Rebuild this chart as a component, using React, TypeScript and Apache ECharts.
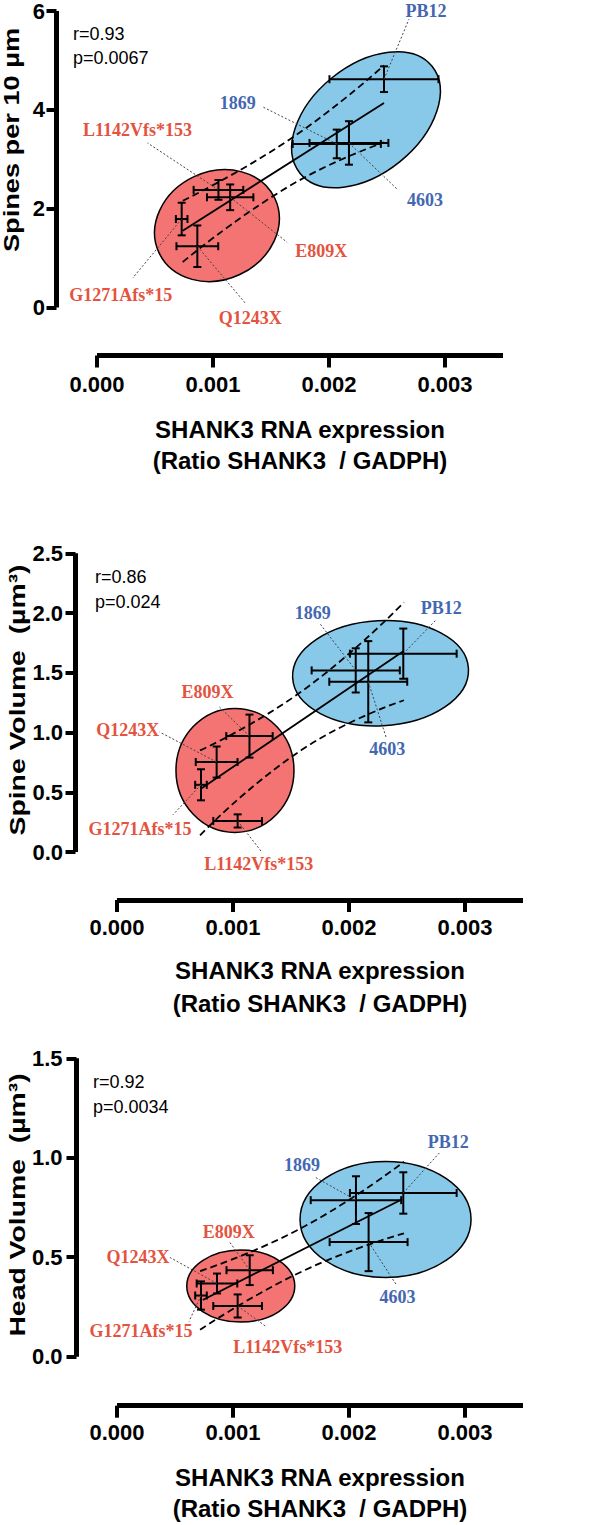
import React, { useEffect, useRef } from "react";
import * as echarts from "echarts";

// ---------- shared ----------
const cellLines = ["PB12", "1869", "4603", "L1142Vfs*153", "E809X", "G1271Afs*15", "Q1243X"];
const cellGroup = ["control", "control", "control", "mutant", "mutant", "mutant", "mutant"];
const xTicks = [0, 0.001, 0.002, 0.003];
const xMax = 0.0035;
const xTitle1 = "SHANK3 RNA expression";
const xTitle2 = "(Ratio SHANK3  / GADPH)";

// ---------- panel A: spines per 10 µm ----------
const spinesX = [0.002474, 0.002067, 0.002172, 0.001047, 0.001148, 0.00073, 0.000865];
const spinesXErr = [0.00047, 0.00038, 0.00034, 0.000214, 0.0002, 0.00005, 0.00018];
const spinesY = [4.62, 3.31, 3.33, 2.38, 2.23, 1.79, 1.24];
const spinesYErr = [0.26, 0.29, 0.44, 0.2, 0.26, 0.33, 0.42];
const spinesFit = [[0.000739, 1.555], [0.002474, 4.14]];
const spinesUpper = [[0.000739, 2.16], [0.00166, 3.4], [0.002474, 4.9]];
const spinesLower = [[0.000739, 0.92], [0.00166, 2.46], [0.002474, 3.34]];
const spinesClusters = [[0.002319, 3.8], [0.001034, 1.657]];
const spinesStats = ["r=0.93", "p=0.0067"];
const spinesYTicks = { max: 6, step: 2, decimals: 0 };

// ---------- panel B: spine volume ----------
const volX = [0.002468, 0.002058, 0.002166, 0.00104, 0.001142, 0.000724, 0.000859];
const volXErr = [0.00046, 0.00038, 0.000336, 0.00021, 0.0002, 0.00005, 0.00018];
const volY = [1.66, 1.52, 1.425, 0.26, 0.97, 0.5625, 0.753];
const volYErr = [0.21, 0.185, 0.34, 0.055, 0.18, 0.13, 0.13];
const volFit = [[0.000724, 0.53], [0.002468, 1.68]];
const volUpper = [[0.000716, 0.85], [0.0016, 1.35], [0.002474, 2.09]];
const volLower = [[0.000716, 0.14], [0.0016, 0.86], [0.002474, 1.27]];
const volClusters = [[0.002272, 1.496], [0.001017, 0.683]];
const volStats = ["r=0.86", "p=0.024"];
const volYTicks = { max: 2.5, step: 0.5, decimals: 1 };

// ---------- panel C: head volume ----------
const headX = [0.002468, 0.00206, 0.002169, 0.00104, 0.001144, 0.000724, 0.000862];
const headXErr = [0.00046, 0.00039, 0.000336, 0.00021, 0.0002, 0.00005, 0.000175];
const headY = [0.823, 0.787, 0.576, 0.255, 0.435, 0.3075, 0.368];
const headYErr = [0.104, 0.12, 0.146, 0.058, 0.075, 0.071, 0.05];
const headFit = [[0.000739, 0.285], [0.002454, 0.79]];
const headUpper = [[0.000716, 0.43], [0.0016, 0.65], [0.002474, 0.98]];
const headLower = [[0.000716, 0.135], [0.0016, 0.43], [0.002474, 0.62]];
const headClusters = [[0.002315, 0.69], [0.001067, 0.355]];
const headStats = ["r=0.92", "p=0.0034"];
const headYTicks = { max: 1.5, step: 0.5, decimals: 1 };

const yTitles = ["Spines per 10 µm", "Spine Volume  (µm³)", "Head Volume  (µm³)"];

// ---------- styles / layout ----------
const SANS = "'Liberation Sans', Arial, sans-serif";
const SERIF = "'Liberation Serif', 'Times New Roman', serif";
const COLORS = {
  controlFill: "#88c8e8",
  mutantFill: "#f47474",
  controlText: "#4467b2",
  mutantText: "#e4533f",
};

const layouts = [
  {
    grid: { left: 97, top: 10, width: 406, height: 297.5 },
    yOffset: 40.5, xOffset: 48, yMargin: 11.5, xMargin: 18,
    statsX: 73, statsY: [33.5, 58],
    yTitle: [11.5, 140, 1.236],
    xTitleX: 300, xTitleY: [429, 460],
    ellipses: [{ rx: 85, ry: 54, rot: 39 }, { rx: 64, ry: 54, rot: 25 }],
    labels: [
      [42, -68, 25, -60], [-99, -41, -74, -37], [76, 57, 49, 47], [-81, -60, -71, -47],
      [91, 54, 57, 45], [-61, 76, -49, 59], [53, 72, 48, 57],
    ],
  },
  {
    grid: { left: 117, top: 553.3, width: 406, height: 298.7 },
    yOffset: 41.5, xOffset: 48, yMargin: 12.5, xMargin: 16,
    statsX: 95, statsY: [576.7, 601.7],
    yTitle: [17, 700, 1.29],
    xTitleX: 320, xTitleY: [970, 1003],
    ellipses: [{ rx: 88, ry: 52.5, rot: 3 }, { rx: 59, ry: 62, rot: 0 }],
    labels: [
      [38, -46, 32, -33], [-43, -57, -36, -47], [19, 67, 18, 56], [21, 43, 24, 31],
      [-42, -44, -30, -29], [-61, 44, -28, 30], [-89, -32, -57, -30],
    ],
  },
  {
    grid: { left: 117, top: 1058.3, width: 406, height: 298.4 },
    yOffset: 40.5, xOffset: 49, yMargin: 14, xMargin: 16,
    statsX: 93, statsY: [1081.7, 1106.7],
    yTitle: [17, 1205, 1.29],
    xTitleX: 320, xTitleY: [1477, 1508],
    ellipses: [{ rx: 85.5, ry: 58, rot: 0 }, { rx: 54, ry: 36, rot: 0 }],
    labels: [
      [45, -51, 36, -40], [-54, -35, -41, -23], [29, 55, 28, 43], [50, 41, 29, 21],
      [-21, -38, -20, -28], [-60, 35, -12, 26], [-79, -26, -47, -26],
    ],
  },
];

const panels = [
  { xs: spinesX, xe: spinesXErr, ys: spinesY, ye: spinesYErr, fit: spinesFit, upper: spinesUpper, lower: spinesLower, clusters: spinesClusters, stats: spinesStats, ticks: spinesYTicks },
  { xs: volX, xe: volXErr, ys: volY, ye: volYErr, fit: volFit, upper: volUpper, lower: volLower, clusters: volClusters, stats: volStats, ticks: volYTicks },
  { xs: headX, xe: headXErr, ys: headY, ye: headYErr, fit: headFit, upper: headUpper, lower: headLower, clusters: headClusters, stats: headStats, ticks: headYTicks },
];

function buildOption() {
  const grids: any[] = [];
  const xAxes: any[] = [];
  const yAxes: any[] = [];
  const series: any[] = [];
  const graphic: any[] = [];

  panels.forEach((P, i) => {
    const L = layouts[i];
    grids.push({ ...L.grid, containLabel: false });
    xAxes.push({
      type: "value", gridIndex: i, min: 0, max: xMax, interval: 0.001, position: "bottom",
      offset: L.xOffset,
      axisLine: { show: true, onZero: false, lineStyle: { color: "#000", width: 5, cap: "butt" } },
      axisTick: { show: true, length: 12, customValues: xTicks, lineStyle: { color: "#000", width: 4 } },
      axisLabel: {
        customValues: xTicks, margin: L.xMargin, color: "#000", fontSize: 22, fontWeight: "bold", fontFamily: SANS,
        formatter: (v: number) => (Math.abs(v * 1000 - Math.round(v * 1000)) > 1e-6 ? "" : v.toFixed(3)),
      },
      splitLine: { show: false },
    });
    yAxes.push({
      type: "value", gridIndex: i, min: 0, max: P.ticks.max, interval: P.ticks.step, position: "left",
      offset: L.yOffset,
      axisLine: { show: true, onZero: false, lineStyle: { color: "#000", width: 5, cap: "butt" } },
      axisTick: { show: true, length: 10, lineStyle: { color: "#000", width: 4 } },
      axisLabel: {
        margin: L.yMargin, color: "#000", fontSize: 22, fontWeight: "bold", fontFamily: SANS,
        formatter: (v: number) => v.toFixed(P.ticks.decimals),
      },
      splitLine: { show: false },
    });

    // cluster ellipses
    series.push({
      type: "custom", xAxisIndex: i, yAxisIndex: i, z: 1, silent: true, clip: false,
      data: P.clusters,
      renderItem: (params: any, api: any) => {
        const c = api.coord([api.value(0), api.value(1)]);
        const e = L.ellipses[params.dataIndex];
        return {
          type: "ellipse", x: c[0], y: c[1], rotation: (e.rot * Math.PI) / 180,
          shape: { cx: 0, cy: 0, rx: e.rx, ry: e.ry },
          style: { fill: params.dataIndex === 0 ? COLORS.controlFill : COLORS.mutantFill, stroke: "#000", lineWidth: 1.5 },
        };
      },
    });

    // regression and confidence bands
    series.push({
      type: "line", xAxisIndex: i, yAxisIndex: i, z: 3, silent: true, symbol: "none",
      data: P.fit, lineStyle: { color: "#000", width: 1.8 },
    });
    [P.upper, P.lower].forEach((band) => {
      series.push({
        type: "line", xAxisIndex: i, yAxisIndex: i, z: 3, silent: true, symbol: "none", smooth: true,
        data: band, lineStyle: { color: "#000", width: 1.8, type: [7, 4] },
      });
    });

    // error bars
    series.push({
      type: "custom", xAxisIndex: i, yAxisIndex: i, z: 4, silent: true, clip: false,
      data: P.xs.map((x, k) => [x, P.ys[k], P.xe[k], P.ye[k]]),
      renderItem: (params: any, api: any) => {
        const x = api.value(0), y = api.value(1), ex = api.value(2), ey = api.value(3);
        const c = api.coord([x, y]);
        const l = api.coord([x - ex, y])[0];
        const r = api.coord([x + ex, y])[0];
        const t = api.coord([x, y + ey])[1];
        const b = api.coord([x, y - ey])[1];
        const cap = 4;
        const st = { stroke: "#000", lineWidth: 2 };
        const ln = (x1: number, y1: number, x2: number, y2: number) => ({ type: "line", shape: { x1, y1, x2, y2 }, style: st });
        return {
          type: "group",
          children: [
            ln(l, c[1], r, c[1]), ln(l, c[1] - cap, l, c[1] + cap), ln(r, c[1] - cap, r, c[1] + cap),
            ln(c[0], t, c[0], b), ln(c[0] - cap, t, c[0] + cap, t), ln(c[0] - cap, b, c[0] + cap, b),
          ],
        };
      },
    });

    // labels with dotted leaders
    series.push({
      type: "custom", xAxisIndex: i, yAxisIndex: i, z: 5, silent: true, clip: false,
      data: P.xs.map((x, k) => [x, P.ys[k]]),
      renderItem: (params: any, api: any) => {
        const k = params.dataIndex;
        const c = api.coord([api.value(0), api.value(1)]);
        const [dx, dy, lx, ly] = L.labels[k];
        const ctrl = cellGroup[k] === "control";
        return {
          type: "group",
          children: [
            { type: "line", shape: { x1: c[0], y1: c[1], x2: c[0] + lx, y2: c[1] + ly }, style: { stroke: "#444", lineWidth: 1, lineDash: [2, 2] } },
            {
              type: "text", x: c[0] + dx, y: c[1] + dy,
              style: {
                text: cellLines[k], fill: ctrl ? COLORS.controlText : COLORS.mutantText,
                fontSize: 18, fontWeight: "bold", fontFamily: SERIF, align: "center", verticalAlign: "middle",
              },
            },
          ],
        };
      },
    });

    // stats text
    P.stats.forEach((s, j) => {
      graphic.push({
        type: "text", x: L.statsX, y: L.statsY[j], silent: true,
        style: { text: s, fill: "#000", fontSize: 18, fontFamily: SANS, align: "left", verticalAlign: "middle" },
      });
    });
    // axis titles
    [xTitle1, xTitle2].forEach((s, j) => {
      graphic.push({
        type: "text", x: L.xTitleX, y: L.xTitleY[j], silent: true,
        style: { text: s, fill: "#000", fontSize: 24, fontWeight: "bold", fontFamily: SANS, align: "center", verticalAlign: "middle" },
      });
    });
    graphic.push({
      type: "text", x: L.yTitle[0], y: L.yTitle[1], rotation: Math.PI / 2, scaleX: L.yTitle[2], silent: true,
      style: { text: yTitles[i], fill: "#000", fontSize: 22, fontWeight: "bold", fontFamily: SANS, align: "center", verticalAlign: "middle" },
    });
  });

  return {
    animation: false,
    backgroundColor: "#fff",
    grid: grids,
    xAxis: xAxes,
    yAxis: yAxes,
    series,
    graphic,
  };
}

export default function App() {
  const ref = useRef<HTMLDivElement>(null);
  useEffect(() => {
    const chart = echarts.init(ref.current!, undefined, { renderer: "svg", width: 606, height: 1525 });
    chart.setOption(buildOption() as any);
    return () => chart.dispose();
  }, []);
  return <div ref={ref} style={{ position: "absolute", left: 0, top: 0, width: 606, height: 1525 }} />;
}
